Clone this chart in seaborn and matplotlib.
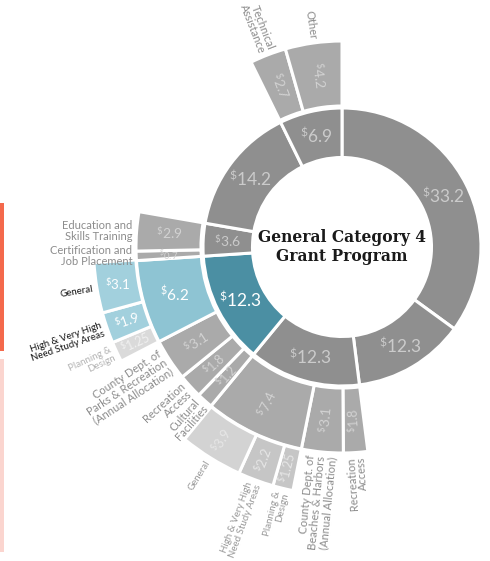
import numpy as np
import matplotlib
matplotlib.use("Agg")
import matplotlib.pyplot as plt
from matplotlib.patches import Rectangle
import seaborn as sns

# ---- data (millions of dollars) ------------------------------------------
# Level 1: program areas, clockwise from 12 o'clock
l1_values = [33.2, 12.3, 12.3, 12.3, 3.6, 14.2, 6.9]

# Level 2: allocations inside a level-1 area (parent = index into level 1)
l2_parents = [2, 2, 2, 3, 3, 3, 3, 4, 4, 6, 6]
l2_values = [1.8, 3.1, 7.4, 1.2, 1.8, 3.1, 6.2, 0.7, 2.9, 2.7, 4.2]
l2_labels = [
    "Recreation\nAccess",
    "County Dept. of\nBeaches & Harbors\n(Annual Allocation)",
    "",
    "Cultural\nFacilities",
    "Recreation\nAccess",
    "County Dept. of\nParks & Recreation\n(Annual Allocation)",
    "",
    "Certification and\nJob Placement",
    "Education and\nSkills Training",
    "Technical\nAssistance",
    "Other",
]

# Level 3: allocations inside a level-2 area (parent = index into level 2)
l3_parents = [2, 2, 2, 6, 6, 6]
l3_values = [1.25, 2.2, 3.9, 1.25, 1.9, 3.1]
l3_labels = [
    "Planning &\nDesign",
    "High & Very High\nNeed Study Areas",
    "General",
    "Planning &\nDesign",
    "High & Very High\nNeed Study Areas",
    "General",
]

center_title = "General Category 4\nGrant Program"

# highlighted branch
focus_l1 = 3
focus_l2 = 6
focus_l3 = [4, 5]

# ---- style ----------------------------------------------------------------
sns.set_theme(style="white")
plt.rcParams["font.family"] = ["Lato", "DejaVu Sans"]
plt.rcParams["mathtext.default"] = "regular"

GRAY1, TEAL1 = "#8f8f8f", "#4b8fa3"
GRAY2, TEAL2 = "#aaaaaa", "#8ec4d3"
GRAY3, GRAY3_LIGHT, TEAL3, PALE3 = "#c6c6c6", "#d3d3d3", "#a2d0dd", "#dadada"

W, H = 490, 561
CX, CY = 342, 247          # ring centre, pixels from top-left
RMAX = 270
RINGS = [(89.5, 139.0), (141.0, 206.0), (206.5, 248.5)]
EDGE = 2.2

fig = plt.figure(figsize=(W / 100, H / 100), dpi=100)
fig.patch.set_facecolor("white")
ax = fig.add_axes([(CX - RMAX) / W, (H - CY - RMAX) / H, 2 * RMAX / W, 2 * RMAX / H],
                  projection="polar")
ax.set_theta_zero_location("N")
ax.set_theta_direction(-1)
ax.set_ylim(0, RMAX)
ax.set_axis_off()

unit = 360.0 / sum(l1_values)


def spans(values, parents=None, parent_start=None):
    starts, used, cursor = [], {}, 0.0
    for i, v in enumerate(values):
        if parents is None:
            starts.append(cursor)
            cursor += v * unit
        else:
            p = parents[i]
            starts.append(parent_start[p] + used.get(p, 0.0))
            used[p] = used.get(p, 0.0) + v * unit
    return np.array(starts), np.array(values) * unit


def tilt(c, flat):
    rot = (270.0 - c + 180.0) % 360.0 - 180.0
    return 0.0 if abs(rot) < flat else rot


def draw_ring(starts, widths, ring, colors):
    r0, r1 = ring
    ax.bar(np.deg2rad(starts + widths / 2), r1 - r0, width=np.deg2rad(widths),
           bottom=r0, color=colors, edgecolor="white", linewidth=EDGE, align="center")


def value_label(s, w, v, ring, level, color, size):
    c = s + w / 2
    r = (ring[0] + ring[1]) / 2
    rot = 0.0 if level == 0 else tilt(c, 17)
    ax.text(np.deg2rad(c), r, r"$^{\$}$" + f"{v:g}", rotation=rot,
            rotation_mode="anchor", ha="center", va="center",
            color=color, fontsize=size)


def category_label(s, w, text, ring, color, size):
    if not text:
        return
    c = s + w / 2
    ax.text(np.deg2rad(c), ring[1] + 4, text, rotation=tilt(c, 5),
            rotation_mode="anchor", ha="right", va="center", multialignment="right",
            color=color, fontsize=size, linespacing=0.95)


# level 1
s1, w1 = spans(l1_values)
c1 = [TEAL1 if i == focus_l1 else GRAY1 for i in range(len(l1_values))]
draw_ring(s1, w1, RINGS[0], c1)
for i, v in enumerate(l1_values):
    col = "white" if i == focus_l1 else "#cbcbcb"
    value_label(s1[i], w1[i], v, RINGS[0], 0, col, 12.5 if v > 5 else 10)

# level 2
s2, w2 = spans(l2_values, l2_parents, s1)
c2 = [TEAL2 if i == focus_l2 else GRAY2 for i in range(len(l2_values))]
draw_ring(s2, w2, RINGS[1], c2)
for i, v in enumerate(l2_values):
    col = "white" if i == focus_l2 else "#d2d2d2"
    size = 11 if i == focus_l2 else (10 if v >= 2 else (9 if v >= 1 else 7))
    value_label(s2[i], w2[i], v, RINGS[1], 1, col, size)
    category_label(s2[i], w2[i], l2_labels[i], RINGS[1], "#8c8c8c", 8)

# level 3
s3, w3 = spans(l3_values, l3_parents, s2)
c3 = []
for i, lab in enumerate(l3_labels):
    if l3_parents[i] == focus_l2:
        c3.append(TEAL3 if i in focus_l3 else PALE3)
    else:
        c3.append(GRAY3_LIGHT if lab == "General" else GRAY3)
draw_ring(s3, w3, RINGS[2], c3)
for i, v in enumerate(l3_values):
    in_branch = l3_parents[i] == focus_l2
    if in_branch:
        vcol = "white" if i in focus_l3 else "#f0f0f0"
        tcol = "#151515" if i in focus_l3 else "#b4b4b4"
    else:
        vcol, tcol = "#e6e6e6", "#999999"
    value_label(s3[i], w3[i], v, RINGS[2], 2, vcol, 9.5 if v >= 1.5 else 9)
    category_label(s3[i], w3[i], l3_labels[i], RINGS[2], tcol, 7)

# centre title
ax.text(0, 0, center_title, ha="center", va="center", fontsize=11.2,
        family="DejaVu Serif", fontweight="bold", color="#1a1a1a", linespacing=1.15)

# page accents at the left edge
fig.add_artist(Rectangle((0, 1 - 351 / H), 4 / W, (351 - 203) / H,
                         transform=fig.transFigure, color="#f4694c", lw=0))
fig.add_artist(Rectangle((0, 1 - 552 / H), 4 / W, (552 - 359) / H,
                         transform=fig.transFigure, color="#fbd5cf", lw=0))

fig.savefig("out.png", dpi=100, facecolor="white")
